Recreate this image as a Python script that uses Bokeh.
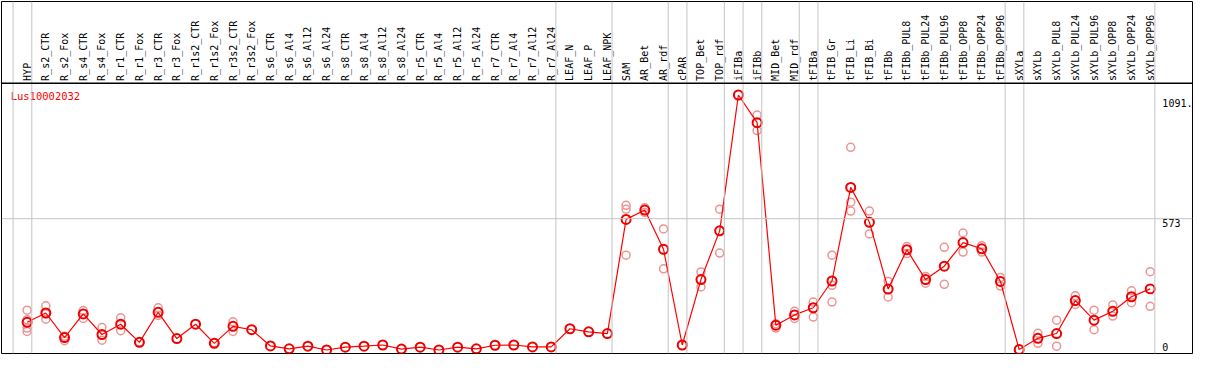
import numpy as np
from bokeh.plotting import figure
from bokeh.models import Range1d, Span
from bokeh.core.properties import value
from bokeh.embed import file_html
from bokeh.resources import INLINE

gene = "Lus10002032"

categories = [
    "HYP", "R_s2_CTR", "R_s2_Fox", "R_s4_CTR", "R_s4_Fox", "R_r1_CTR", "R_r1_Fox",
    "R_r3_CTR", "R_r3_Fox", "R_r1s2_CTR", "R_r1s2_Fox", "R_r3s2_CTR", "R_r3s2_Fox",
    "R_s6_CTR", "R_s6_Al4", "R_s6_Al12", "R_s6_Al24", "R_s8_CTR", "R_s8_Al4",
    "R_s8_Al12", "R_s8_Al24", "R_r5_CTR", "R_r5_Al4", "R_r5_Al12", "R_r5_Al24",
    "R_r7_CTR", "R_r7_Al4", "R_r7_Al12", "R_r7_Al24", "LEAF_N", "LEAF_P", "LEAF_NPK",
    "SAM", "AR_Bet", "AR_rdf", "cPAR", "TOP_Bet", "TOP_rdf", "iFIBa", "iFIBb",
    "MID_Bet", "MID_rdf", "tFIBa", "tFIB_Gr", "tFIB_Li", "tFIB_Bi", "tFIBb",
    "tFIBb_PUL8", "tFIBb_PUL24", "tFIBb_PUL96", "tFIBb_OPP8", "tFIBb_OPP24",
    "tFIBb_OPP96", "sXYLa", "sXYLb", "sXYLb_PUL8", "sXYLb_PUL24", "sXYLb_PUL96",
    "sXYLb_OPP8", "sXYLb_OPP24", "sXYLb_OPP96",
]

means = [
    139, 178, 75, 174, 88, 131, 55, 181, 71, 131, 51, 122, 108,
    40, 28, 39, 23, 35, 39, 44, 27, 35, 23, 35, 28, 43, 44, 36, 36,
    112, 99, 92,
    570, 609, 445, 44, 318, 522, 1091, 975, 127, 170, 200, 312, 704, 558, 278,
    443, 318, 374, 473, 447, 310,
    25, 72, 92, 230, 148, 185, 246, 279,
]

replicates = [
    [190, 150, 115, 101], [208, 175, 152], [81, 62], [188, 155], [117, 64],
    [158, 104], [57], [200, 168], [], [], [53], [141, 101], [],
    [], [], [], [], [], [], [], [], [], [], [], [], [], [], [], [],
    [], [], [],
    [629, 613, 420], [619, 599], [530, 363], [], [350, 287], [613, 429], [],
    [1007, 942], [133, 115], [185, 155], [224, 161], [420, 294, 224],
    [872, 642, 605], [605, 509], [310, 245],
    [456, 427], [331, 303], [453, 298], [513, 433], [460, 433], [327, 291],
    [], [93, 51], [148, 39], [250, 214], [190, 108], [212, 165], [271, 221], [351, 206],
]

separators_after = ["HYP", "R_r7_Al24", "LEAF_NPK", "AR_rdf", "cPAR", "TOP_rdf",
                    "iFIBa", "iFIBb", "MID_rdf", "tFIBa", "tFIBb_OPP96", "sXYLa",
                    "sXYLb_OPP96"]

tick_values = [1091, 573, 0]
tick_labels = ["1091.", "573", "0"]
ref_line_value = 573

# ---- layout constants ----
W, H = 1193, 354
FONT = value("DejaVu Sans Mono")
x_lo, x_hi = -1.368, 62.26
y_lo, y_hi = 8.4, 1482.5
header_v = 1140.0
label_v = 1150.0

p = figure(width=W, height=H, output_backend="svg", toolbar_location=None,
           x_range=Range1d(x_lo, x_hi), y_range=Range1d(y_lo, y_hi),
           x_axis_location=None, y_axis_location=None, min_border=1)
p.grid.visible = False
p.outline_line_color = "black"
p.outline_line_width = 1
p.background_fill_color = "white"
p.border_fill_color = "white"

idx = np.arange(len(categories))

# separators
sep_pos = [-1] + [categories.index(c) for c in separators_after]
for s in sep_pos:
    p.add_layout(Span(location=s + 0.25, dimension="height",
                      line_color="#c4c4c4", line_width=1))
p.add_layout(Span(location=ref_line_value, dimension="width",
                  line_color="#c4c4c4", line_width=1))
p.add_layout(Span(location=header_v, dimension="width",
                  line_color="black", line_width=1.5))

# category labels
p.text(x=idx, y=[label_v] * len(categories), text=categories, angle=np.pi / 2,
       text_align="left", text_baseline="middle", text_font=FONT,
       text_font_size="10px", text_color="black")

# gene name
p.text(x=[-0.88], y=[1112], text=[gene], text_align="left", text_baseline="top",
       text_font=FONT, text_font_size="10.5px", text_color="red")

# value labels on the right
p.text(x=[60.65] * 3, y=tick_values, text=tick_labels, text_align="left",
       text_baseline="middle", y_offset=[8, 4, -9], text_font=FONT,
       text_font_size="10px", text_color="black")

# replicates
rx, ry = [], []
for i, reps in enumerate(replicates):
    for r in reps:
        rx.append(i)
        ry.append(r)
p.scatter(rx, ry, marker="circle", size=8, fill_color=None,
          line_color="#ec9494", line_width=1.5)

# mean line and markers
p.line(idx, means, line_color="red", line_width=1.2)
p.scatter(idx, means, marker="circle", size=9, fill_color=None,
          line_color="#ee0000", line_width=2)

open("out.html", "w").write(file_html(p, INLINE))
